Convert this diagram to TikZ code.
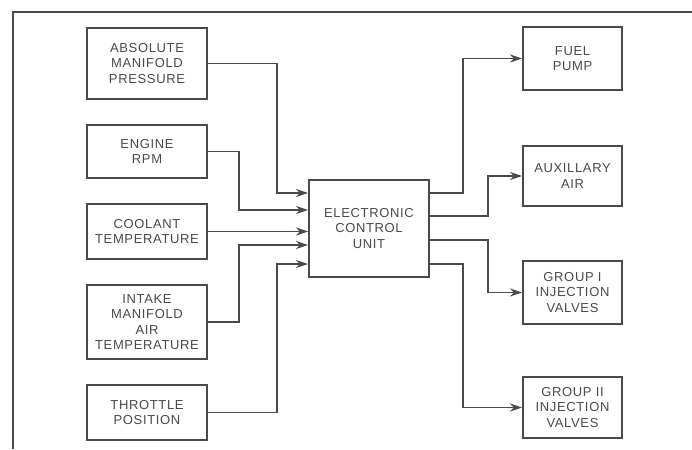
\documentclass[tikz,border=0pt]{standalone}
\usepackage{fontspec}
\setmainfont{Liberation Sans}[LetterSpace=5]
\usepackage{tikz}
\usetikzlibrary{arrows.meta, positioning}
\definecolor{inkgray}{HTML}{4A4A4A}

\begin{document}
\begin{tikzpicture}[
    x=1pt, y=-1pt,
    node distance=24pt,
    box/.style={
        rectangle,
        draw=inkgray,
        line width=2pt,
        text=inkgray,
        align=center,
        inner sep=0pt,
        font=\fontsize{13}{15.5}\selectfont
    },
    inbox/.style={box, minimum width=120pt, minimum height=55pt},
    outbox/.style={box, minimum width=99pt, minimum height=62pt},
    arrow/.style={-{Stealth[length=12pt, width=8pt]}, draw=inkgray, line width=1.2pt}
]

\path[use as bounding box, fill=white] (0,0) rectangle (692,449);
\draw[inkgray, line width=1.2pt] (13,449) -- (13,12) -- (692,12);

% sensors
\node[inbox, minimum height=71pt] (amp) at (147,63.5) {
    ABSOLUTE\\MANIFOLD\\PRESSURE
};

\node[inbox, minimum height=53pt, below=of amp] (rpm) {
    ENGINE\\RPM
};

\node[inbox, below=of rpm] (coolant) {
    COOLANT\\TEMPERATURE
};

\node[inbox, minimum height=74pt, below=of coolant] (intake) {
    INTAKE\\MANIFOLD\\AIR\\TEMPERATURE
};

\node[inbox, below=of intake] (throttle) {
    THROTTLE\\POSITION
};

% control unit
\node[box, minimum width=120pt, minimum height=97pt] (ecu) at (369,228.5) {
    ELECTRONIC\\CONTROL\\UNIT
};

% actuators
\node[outbox, minimum height=63pt] (fuel) at (572.5,58.5) {
    FUEL\\PUMP
};

\node[outbox, minimum height=60pt, below=54pt of fuel] (aux) {
    AUXILLARY\\AIR
};

\node[outbox, minimum height=63pt, below=53pt of aux] (groupone) {
    GROUP I\\INJECTION\\VALVES
};

\node[outbox, minimum height=61pt, below=51pt of groupone] (grouptwo) {
    GROUP II\\INJECTION\\VALVES
};

\draw[arrow] (amp.east) -- ++(69,0) |- ([yshift=35.5pt]ecu.west);
\draw[arrow] (rpm.east) -- ++(31,0) |- ([yshift=18.5pt]ecu.west);
\draw[arrow] (coolant.east) -- (coolant.east -| ecu.west);
\draw[arrow] (intake.east) -- ++(31,0) |- ([yshift=-16.5pt]ecu.west);
\draw[arrow] (throttle.east) -- ++(69,0) |- ([yshift=-35.5pt]ecu.west);

\draw[arrow] ([yshift=35.5pt]ecu.east) -- ++(33,0) |- (fuel);
\draw[arrow] ([yshift=12.5pt]ecu.east) -- ++(58,0) |- (aux);
\draw[arrow] ([yshift=-11.5pt]ecu.east) -- ++(58,0) |- (groupone);
\draw[arrow] ([yshift=-35.5pt]ecu.east) -- ++(33,0) |- (grouptwo);

\end{tikzpicture}
\end{document}
